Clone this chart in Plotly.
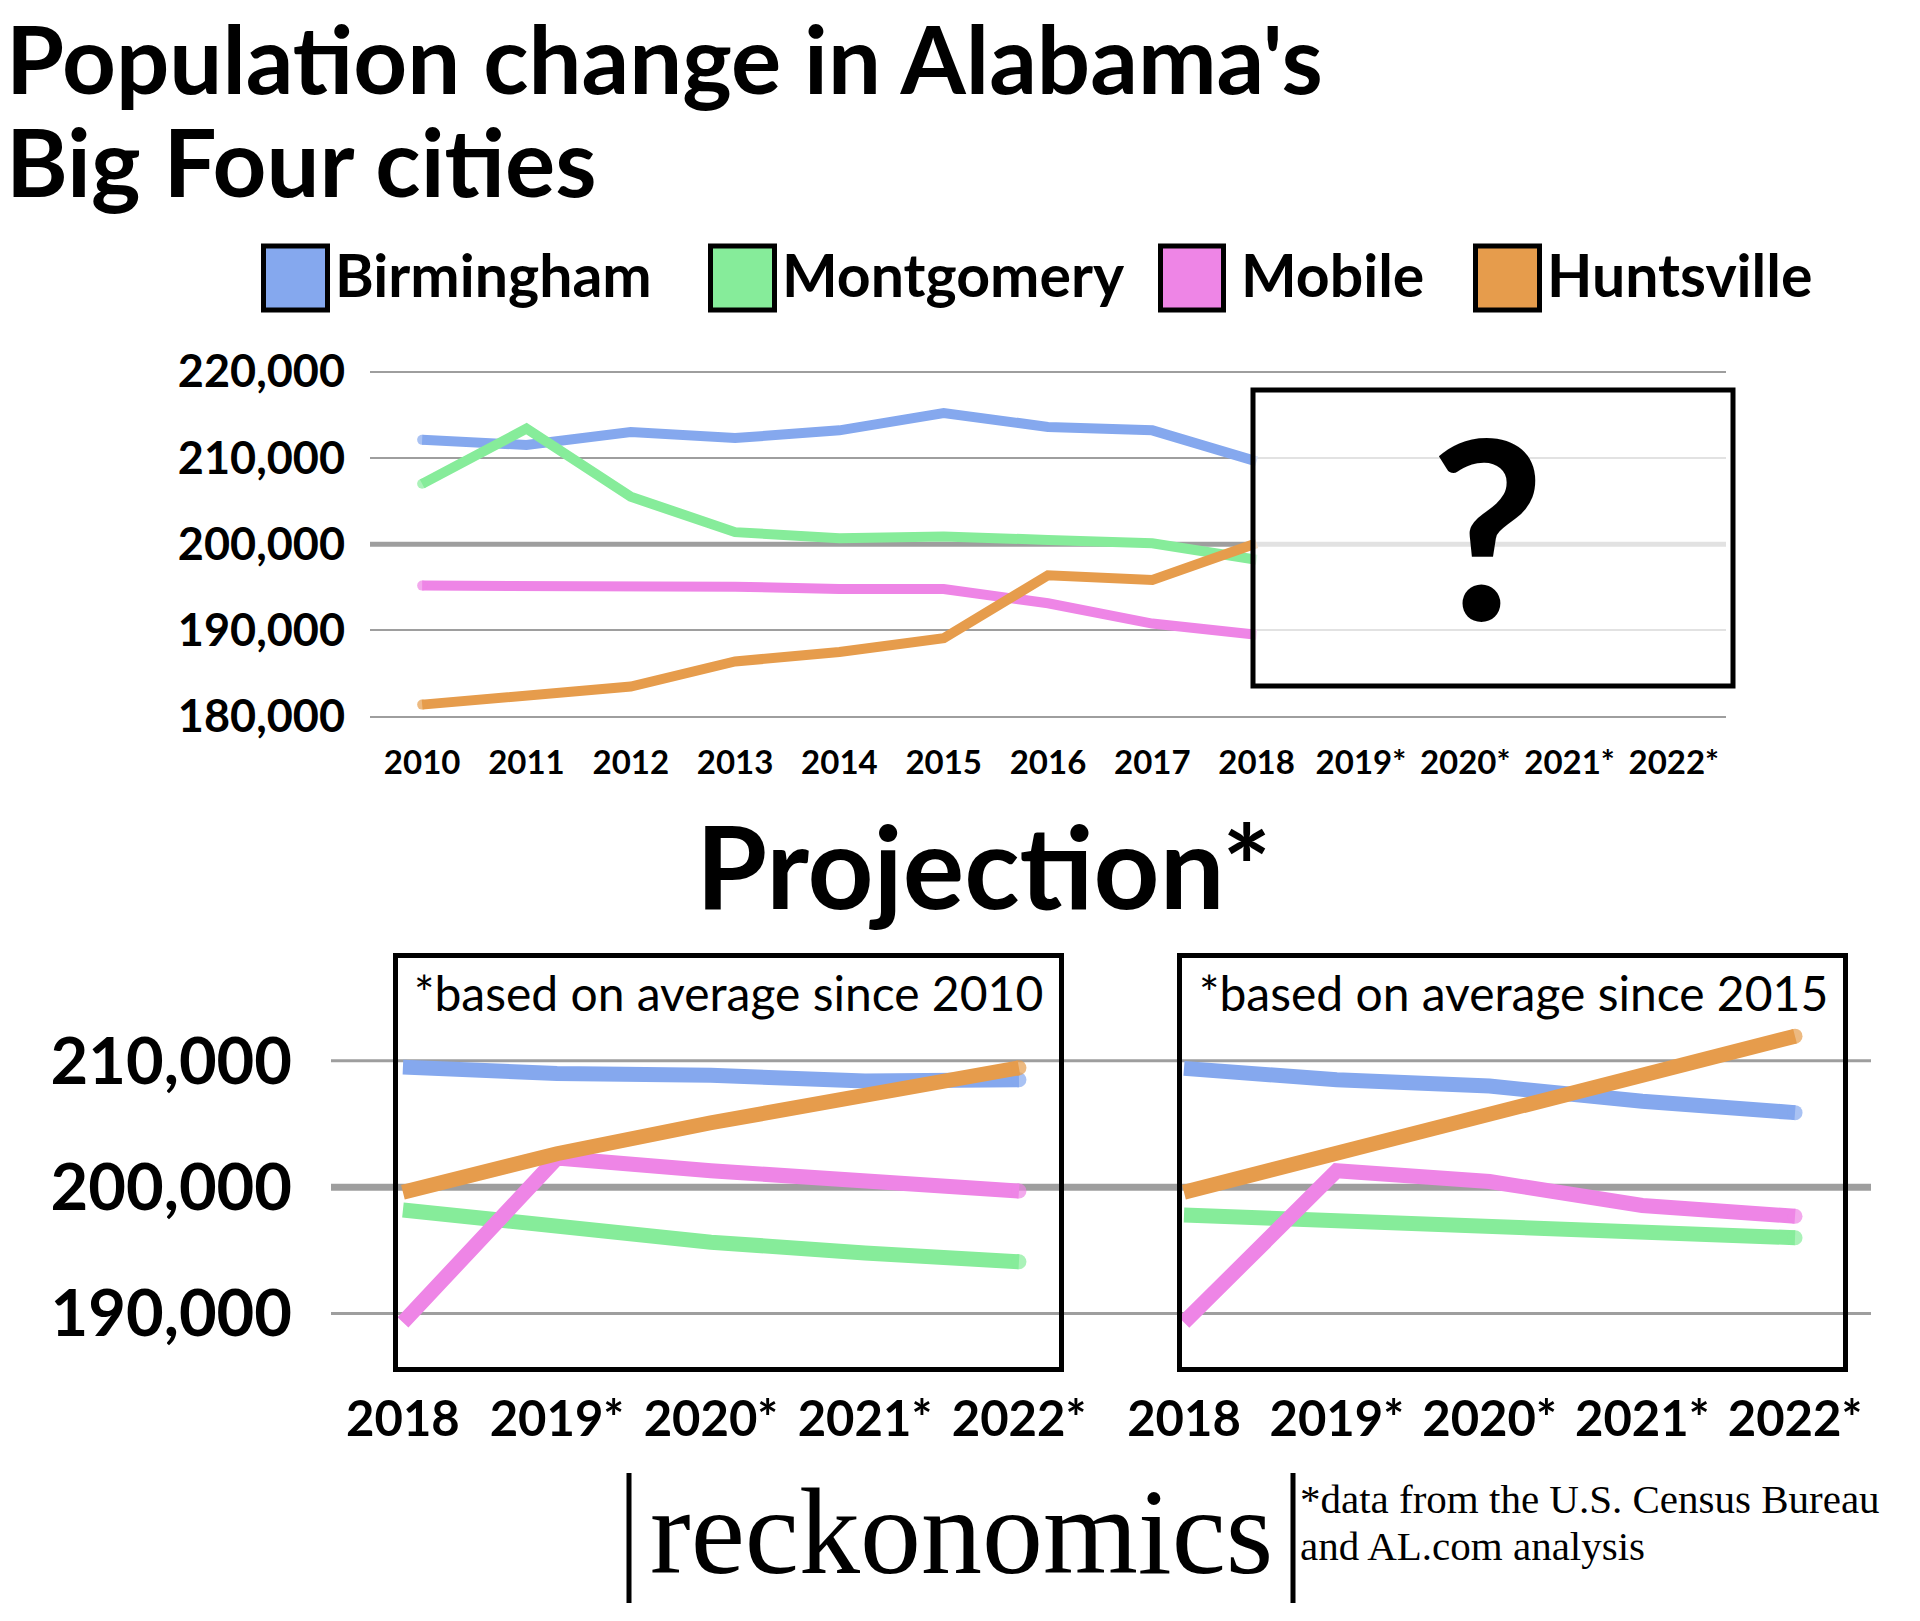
import plotly.graph_objects as go

W, H = 1920, 1621

# ---------------- data ----------------
cities = ["Birmingham", "Montgomery", "Mobile", "Huntsville"]
colors = ["#85A8EE", "#86EC9A", "#EE85E6", "#E69C4C"]

years_all = ["2010", "2011", "2012", "2013", "2014", "2015", "2016", "2017", "2018",
             "2019*", "2020*", "2021*", "2022*"]
years_hist = ["2010", "2011", "2012", "2013", "2014", "2015", "2016", "2017", "2018"]
years_proj = ["2018", "2019*", "2020*", "2021*", "2022*"]

birmingham_hist = [212100, 211500, 213000, 212300, 213200, 215200, 213600, 213200, 209600]
montgomery_hist = [207000, 213400, 205500, 201400, 200700, 200900, 200500, 200100, 198200]
mobile_hist = [195200, 195200, 195150, 195070, 194800, 194800, 193150, 190800, 189500]
huntsville_hist = [181400, 182500, 183500, 186400, 187500, 189100, 196400, 195850, 200100]

# projection based on average since 2010
birmingham_p10 = [209500, 209000, 208850, 208400, 208500]
montgomery_p10 = [198200, 196850, 195650, 194800, 194100]
mobile_p10 = [189300, 202300, 201300, 200450, 199700]
huntsville_p10 = [199600, 202650, 205100, 207150, 209450]

# projection based on average since 2015
birmingham_p15 = [209400, 208500, 208000, 206800, 205900]
montgomery_p15 = [197800, 197400, 197000, 196500, 196000]
mobile_p15 = [189300, 201300, 200450, 198550, 197700]
huntsville_p15 = [199600, 202700, 205900, 209000, 211950]

top_ticks = [180000, 190000, 200000, 210000, 220000]
bottom_ticks = [190000, 200000, 210000]

title_line1 = "Population change in Alabama's"
title_line2 = "Big Four cities"
proj_title = "Projection*"
note_2010 = "*based on average since 2010"
note_2015 = "*based on average since 2015"
brand = "reckonomics"
source_1 = "*data from the U.S. Census Bureau"
source_2 = "and AL.com analysis"

hist_series = [birmingham_hist, montgomery_hist, mobile_hist, huntsville_hist]
p10_series = [birmingham_p10, montgomery_p10, mobile_p10, huntsville_p10]
p15_series = [birmingham_p15, montgomery_p15, mobile_p15, huntsville_p15]

# ---------------- helpers (pixel -> paper) ----------------
def px(x):
    return x / W

def py(y):
    return 1 - y / H

FONT = "Lato"
SERIF = "Liberation Serif"
GRID = "#9e9e9e"
TOP_W = 10
BOT_W = 15

fig = go.Figure()

x_hist = [years_all.index(y) for y in years_hist]
x_proj = [years_proj.index(y) for y in years_proj]

# round cap at the first point of the history lines
top_caps = [TOP_W] + [0] * (len(x_hist) - 1)
# round cap at the last point of the projection lines
bot_caps = [0] * (len(x_proj) - 1) + [BOT_W]

for name, col, vals in zip(cities, colors, hist_series):
    fig.add_trace(go.Scatter(x=x_hist, y=vals, mode="lines+markers", name=name,
                             line=dict(color=col, width=TOP_W),
                             marker=dict(color=col, size=top_caps, line=dict(width=0)),
                             xaxis="x", yaxis="y", showlegend=False, hoverinfo="skip"))
for series, xa, ya in ((p10_series, "x2", "y2"), (p15_series, "x3", "y3")):
    for name, col, vals in zip(cities, colors, series):
        fig.add_trace(go.Scatter(x=x_proj, y=vals, mode="lines+markers", name=name,
                                 line=dict(color=col, width=BOT_W),
                                 marker=dict(color=col, size=bot_caps, line=dict(width=0)),
                                 xaxis=xa, yaxis=ya, showlegend=False, hoverinfo="skip"))

# ---------------- axes ----------------
top_y_lo, top_y_hi = 178000, 222000
common = dict(automargin=False, fixedrange=True, zeroline=False, ticks="")
fig.update_layout(
    xaxis=dict(domain=[px(370), px(1726)], range=[-0.5, len(years_all) - 0.5],
               tickmode="array", tickvals=list(range(len(years_all))), ticktext=years_all,
               showgrid=False, showline=False,
               tickfont=dict(family=FONT, size=33, color="black", weight="bold"),
               ticklabelstandoff=6, anchor="y", **common),
    yaxis=dict(domain=[py(733.95), py(354.45)], range=[top_y_lo, top_y_hi],
               tickmode="array", tickvals=top_ticks, tickformat=",d",
               showgrid=True, gridcolor=GRID, gridwidth=2, showline=False,
               tickfont=dict(family=FONT, size=45, color="black", weight="bold"),
               ticklabelstandoff=24, anchor="x", **common),
    xaxis2=dict(domain=[px(398), px(1059)], range=[-0.032, 4.26],
                tickmode="array", tickvals=list(range(len(years_proj))), ticktext=years_proj,
                showgrid=False, showline=True, mirror=True,
                linecolor="black", linewidth=5,
                tickfont=dict(family=FONT, size=49, color="black", weight="bold"),
                ticklabelstandoff=5, anchor="y2", **common),
    yaxis2=dict(domain=[py(1366.8), py(958.3)], range=[185790, 218110],
                tickmode="array", tickvals=bottom_ticks, tickformat=",d",
                showgrid=False, showline=True, mirror=True,
                linecolor="black", linewidth=5,
                tickfont=dict(family=FONT, size=65, color="black", weight="bold"),
                ticklabelstandoff=88, anchor="x2", **common),
    xaxis3=dict(domain=[px(1182), px(1843)], range=[-0.013, 4.314],
                tickmode="array", tickvals=list(range(len(years_proj))), ticktext=years_proj,
                showgrid=False, showline=True, mirror=True,
                linecolor="black", linewidth=5,
                tickfont=dict(family=FONT, size=49, color="black", weight="bold"),
                ticklabelstandoff=5, anchor="y3", **common),
    yaxis3=dict(domain=[py(1366.8), py(958.3)], range=[185790, 218110],
                showticklabels=False, showgrid=False, showline=True,
                mirror=True, linecolor="black", linewidth=5,
                anchor="x3", **common),
)

shapes = []
# top chart: heavier 200,000 line
shapes.append(dict(type="line", xref="x domain", yref="y", x0=0, x1=1, y0=200000, y1=200000,
                   line=dict(color=GRID, width=5), layer="below"))
# top chart: "?" box over the future years
shapes.append(dict(type="rect", xref="paper", yref="paper", x0=px(1253), x1=px(1733),
                   y0=py(686), y1=py(390), fillcolor="rgba(255,255,255,0.7)",
                   line=dict(color="black", width=5), layer="above"))
# bottom gridlines spanning both panels
for v in bottom_ticks:
    shapes.append(dict(type="line", xref="paper", yref="y2", x0=px(331), x1=px(1871),
                       y0=v, y1=v, line=dict(color=GRID, width=7 if v == 200000 else 3),
                       layer="below"))
# legend boxes
legend_boxes = [(261, 330), (708, 777), (1158, 1226), (1473, 1542)]
for (x0, x1), col in zip(legend_boxes, colors):
    shapes.append(dict(type="rect", xref="paper", yref="paper", x0=px(x0 + 2.5), x1=px(x1 - 2.5),
                       y0=py(310), y1=py(246), fillcolor=col,
                       line=dict(color="black", width=5)))
# brand bars
for xb in (629, 1293):
    shapes.append(dict(type="line", xref="paper", yref="paper", x0=px(xb), x1=px(xb),
                       y0=py(1603), y1=py(1473), line=dict(color="black", width=5)))
fig.update_layout(shapes=shapes)

ann = []
def text(t, x, y, size, family=FONT, bold=False, xanchor="left"):
    f = dict(family=family, size=size, color="black")
    if bold:
        f["weight"] = "bold"
    ann.append(dict(text=t, x=px(x), y=py(y), xref="paper", yref="paper",
                    xanchor=xanchor, yanchor="middle", showarrow=False, font=f))

text(title_line1, 4, 58, 94, bold=True)
text(title_line2, 4, 161, 94, bold=True)
legend_text_x = [333, 780, 1239, 1545]
for name, xt in zip(cities, legend_text_x):
    text(name, xt, 274, 59, bold=True)
text("?", 1487, 523, 250, bold=True, xanchor="center")
text(proj_title, 984, 864, 115, bold=True, xanchor="center")
text(note_2010, 728, 992, 48, xanchor="center")
text(note_2015, 1513, 992, 48, xanchor="center")
text(brand, 961, 1531, 122, family=SERIF, xanchor="center")
text(source_1, 1298, 1499, 41, family=SERIF)
text(source_2, 1298, 1546, 41, family=SERIF)
fig.update_layout(annotations=ann)

fig.update_layout(width=W, height=H, margin=dict(l=0, r=0, t=0, b=0, autoexpand=False),
                  paper_bgcolor="white", plot_bgcolor="white", showlegend=False)

fig.write_html("out.html", config={"displayModeBar": False},
               post_script="document.body.style.margin='0';document.body.style.overflow='hidden';")
